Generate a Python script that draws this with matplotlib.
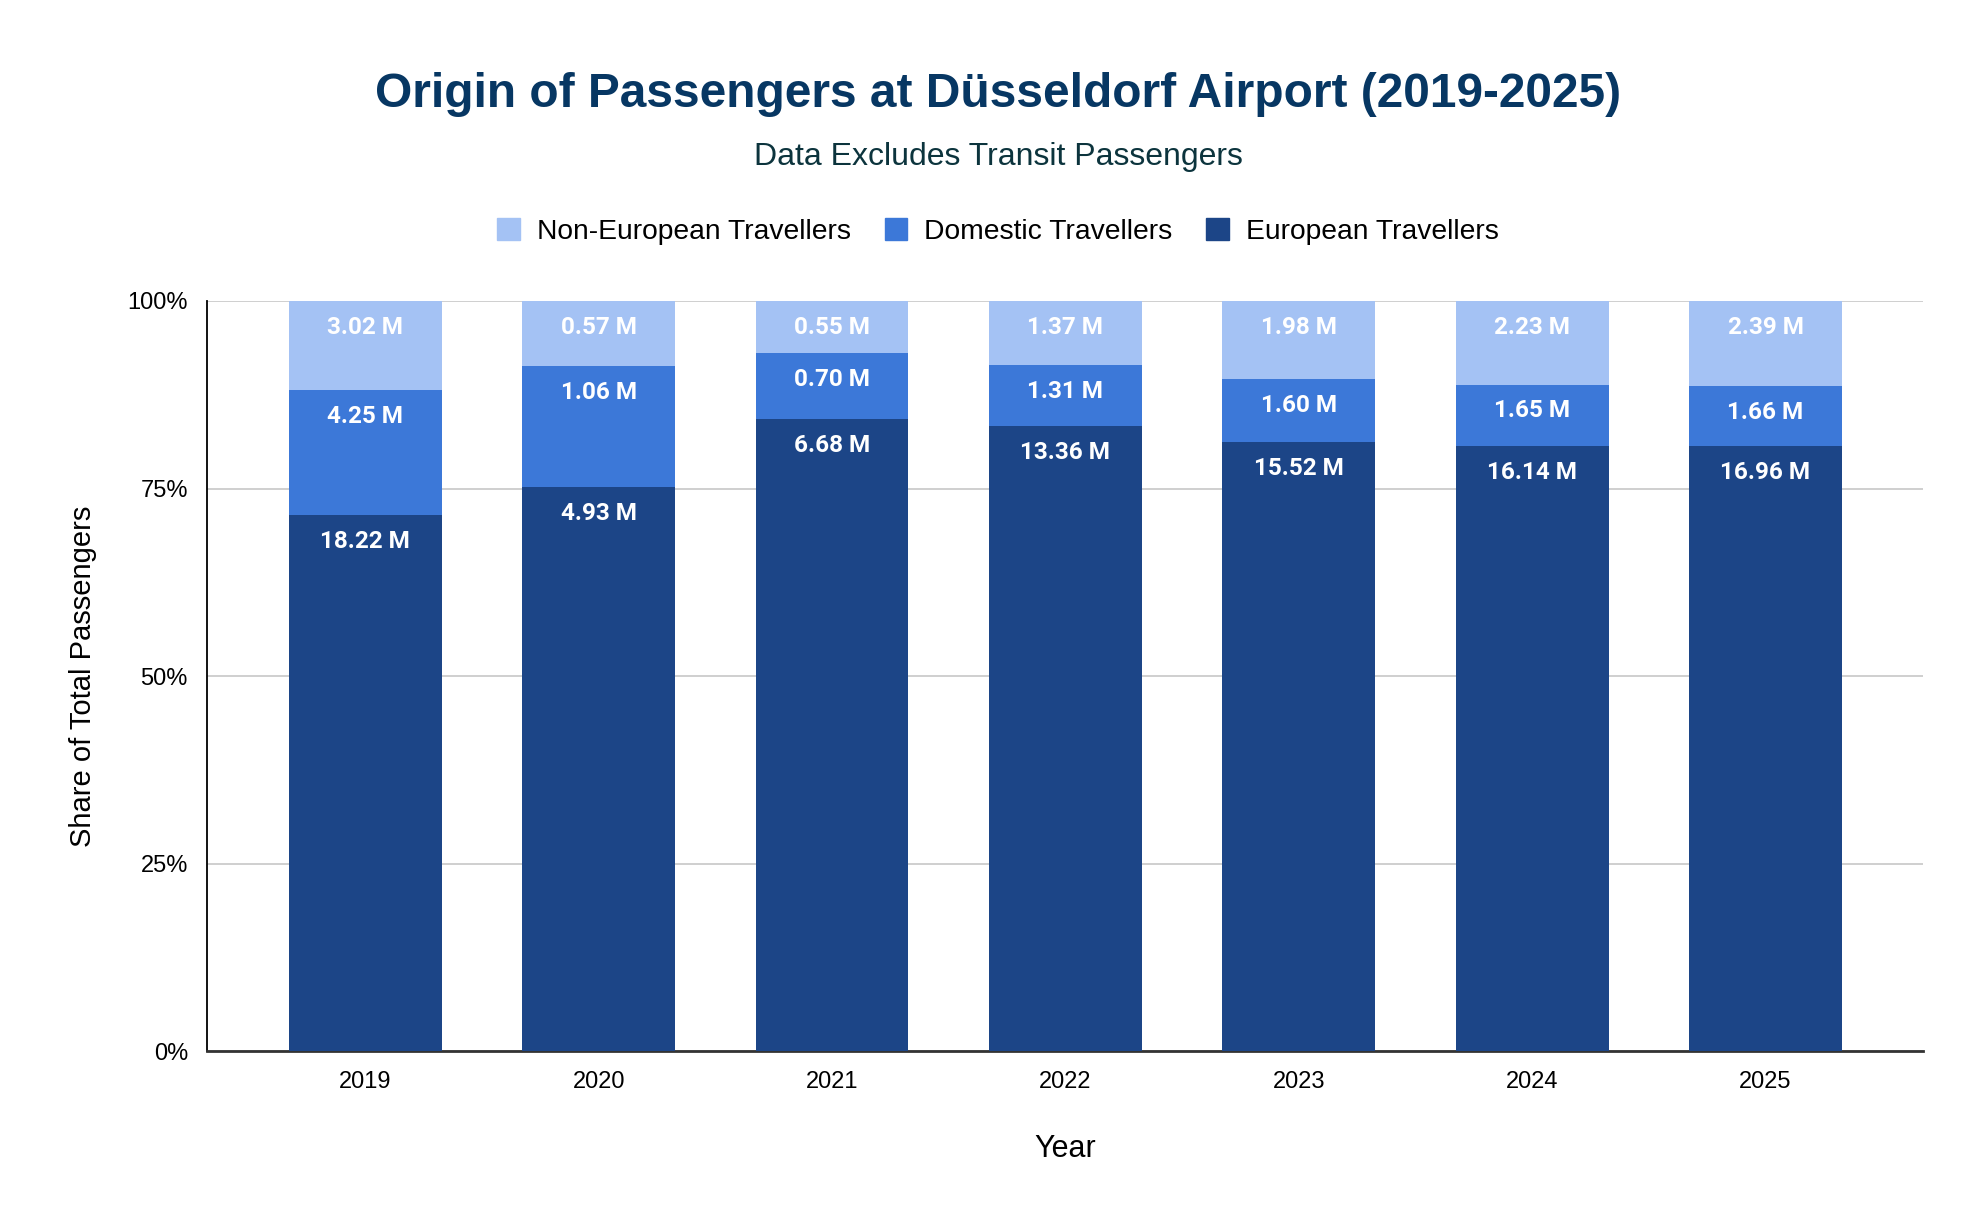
import numpy as np
import matplotlib.pyplot as plt
from matplotlib.patches import Patch

years = ["2019", "2020", "2021", "2022", "2023", "2024", "2025"]
european = [18.22, 4.93, 6.68, 13.36, 15.52, 16.14, 16.96]
domestic = [4.25, 1.06, 0.70, 1.31, 1.60, 1.65, 1.66]
non_european = [3.02, 0.57, 0.55, 1.37, 1.98, 2.23, 2.39]

c_eu = "#1c4587"
c_dom = "#3c78d8"
c_non = "#a4c2f4"

eu = np.array(european)
dom = np.array(domestic)
non = np.array(non_european)
total = eu + dom + non
eu_s = eu / total * 100
dom_s = dom / total * 100
non_s = non / total * 100

fig = plt.figure(figsize=(19.84, 12.26), dpi=100)
ax = fig.add_axes([0.1045, 0.1425, 0.865, 0.612])

x = np.arange(len(years))
w = 0.655
ax.bar(x, eu_s, w, color=c_eu, zorder=3)
ax.bar(x, dom_s, w, bottom=eu_s, color=c_dom, zorder=3)
ax.bar(x, non_s, w, bottom=eu_s + dom_s, color=c_non, zorder=3)

def put_labels(vals, tops):
    for xi, v, t in zip(x, vals, tops):
        ax.annotate(f"{v:.2f} M", (xi, t), xytext=(0, -19), textcoords="offset points",
                    ha="center", va="center", color="white", fontsize=17.5,
                    fontweight="bold", family="Roboto", zorder=4)

put_labels(eu, eu_s)
put_labels(dom, eu_s + dom_s)
put_labels(non, eu_s + dom_s + non_s)

ax.set_xlim(-0.677, 6.677)
ax.set_ylim(0, 100)
ax.set_xticks(x)
ax.set_xticklabels(years)
ax.set_yticks([0, 25, 50, 75, 100])
ax.set_yticklabels(["0%", "25%", "50%", "75%", "100%"])
ax.tick_params(length=0, labelsize=17, pad=14)
for lab in ax.get_xticklabels() + ax.get_yticklabels():
    lab.set_family("Liberation Sans")
ax.grid(axis="y", color="#cccccc", linewidth=1.3, zorder=0)
for s in ["top", "right"]:
    ax.spines[s].set_visible(False)
ax.spines["left"].set_color("black")
ax.spines["left"].set_linewidth(1.3)
ax.spines["bottom"].set_color("#333333")
ax.spines["bottom"].set_linewidth(2)

ax.set_xlabel("Year", fontsize=22, family="Liberation Sans", labelpad=30)
ax.set_ylabel("Share of Total Passengers", fontsize=21, family="Liberation Sans", labelpad=22)

fig.text(0.503, 0.923, "Origin of Passengers at Düsseldorf Airport (2019-2025)",
         ha="center", va="center", fontsize=34.5, fontweight="bold",
         color="#073763", family="Liberation Sans")
fig.text(0.503, 0.872, "Data Excludes Transit Passengers", ha="center", va="center",
         fontsize=23, color="#0c343d", family="Liberation Sans")

handles = [Patch(color=c_non), Patch(color=c_dom), Patch(color=c_eu)]
fig.legend(handles, ["Non-European Travellers", "Domestic Travellers", "European Travellers"],
           loc="center", bbox_to_anchor=(0.503, 0.811), ncol=3, frameon=False,
           prop={"family": "Liberation Sans", "size": 20.3}, handlelength=0.8,
           handleheight=0.8, handletextpad=0.6, columnspacing=1.2)

fig.savefig("out.png", dpi=100)
